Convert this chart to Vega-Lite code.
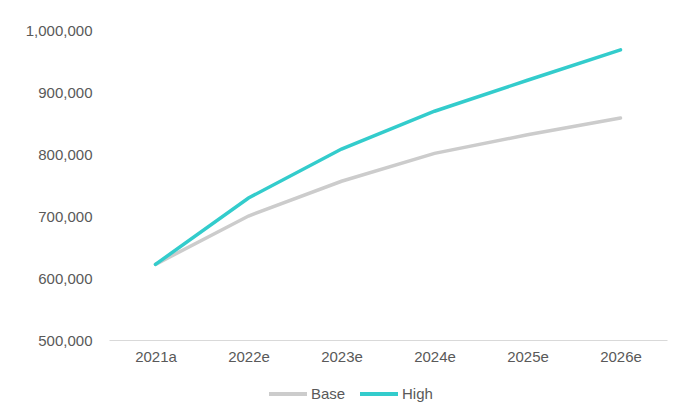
{
  "$schema": "https://vega.github.io/schema/vega-lite/v6.json",
  "autosize": {"type": "none"},
  "width": 558,
  "height": 310,
  "padding": {"left": 109, "top": 30, "right": 14, "bottom": 72},
  "background": "white",
  "config": {
    "view": {"stroke": null},
    "font": "Liberation Sans"
  },
  "data": {
    "values": [
      {"year": "2021a", "series": "Base", "value": 622000},
      {"year": "2022e", "series": "Base", "value": 700000},
      {"year": "2023e", "series": "Base", "value": 756000},
      {"year": "2024e", "series": "Base", "value": 801000},
      {"year": "2025e", "series": "Base", "value": 831000},
      {"year": "2026e", "series": "Base", "value": 858000},
      {"year": "2021a", "series": "High", "value": 622000},
      {"year": "2022e", "series": "High", "value": 729000},
      {"year": "2023e", "series": "High", "value": 808000},
      {"year": "2024e", "series": "High", "value": 869000},
      {"year": "2025e", "series": "High", "value": 919000},
      {"year": "2026e", "series": "High", "value": 968000}
    ]
  },
  "mark": {"type": "line", "strokeWidth": 3.5, "strokeCap": "round"},
  "encoding": {
    "x": {
      "field": "year",
      "type": "ordinal",
      "scale": {"type": "point", "padding": 0.5},
      "axis": {
        "title": null,
        "labelAngle": 0,
        "ticks": false,
        "domainColor": "#d9d9d9",
        "domainWidth": 1,
        "labelColor": "#595959",
        "labelFontSize": 15,
        "labelPadding": 9
      }
    },
    "y": {
      "field": "value",
      "type": "quantitative",
      "scale": {"domain": [500000, 1000000], "nice": false, "zero": false},
      "axis": {
        "title": null,
        "values": [500000, 600000, 700000, 800000, 900000, 1000000],
        "format": ",.0f",
        "grid": false,
        "domain": false,
        "ticks": false,
        "labelColor": "#595959",
        "labelFontSize": 15,
        "labelPadding": 17
      }
    },
    "color": {
      "field": "series",
      "type": "nominal",
      "scale": {"domain": ["Base", "High"], "range": ["#cccccc", "#33cccc"]},
      "legend": {
        "title": null,
        "orient": "none",
        "direction": "horizontal",
        "legendX": 158,
        "legendY": 343,
        "symbolType": "stroke",
        "symbolSize": 1444,
        "symbolStrokeWidth": 4,
        "labelColor": "#595959",
        "labelFontSize": 15,
        "labelOffset": 2,
        "columnPadding": 6
      }
    }
  }
}
